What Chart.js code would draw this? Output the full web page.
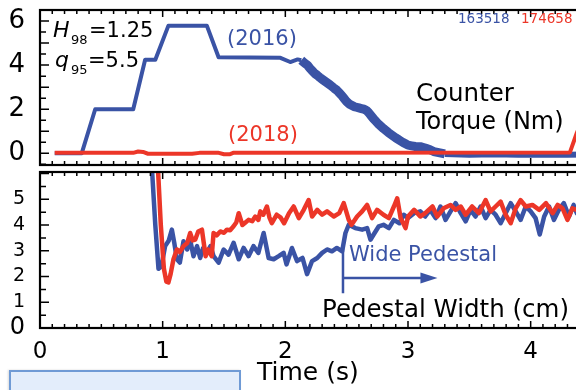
<!DOCTYPE html>
<html>
<head>
<meta charset="utf-8">
<script src="https://cdn.jsdelivr.net/npm/chart.js@4/dist/chart.umd.min.js"></script>
<style>
  html, body { margin: 0; padding: 0; background: #fff; }
  #wrap { position: relative; width: 576px; height: 390px; overflow: hidden; background: #fff; }
  #wrap canvas { position: absolute; left: 0; }
  #torque { top: 0; }
  #pedestal { top: 160px; }
  #box { position: absolute; left: 9px; top: 370px; width: 228px; height: 40px; background: #e3edfb; border: 2px solid #6f9ad5; box-shadow: -1px 0 2px rgba(0,0,0,0.15); }
</style>
</head>
<body>
<div id="wrap">
  <canvas id="torque" width="592" height="170"></canvas>
  <canvas id="pedestal" width="592" height="230"></canvas>
  <div id="box"></div>
</div>
<script>
const BLUE = '#3a53a5'
const RED = '#ec3628'
const FONT = 'DejaVu Sans'

// counter torque (Nm)
const torqueTime2016 = [0.12, 0.34, 0.45, 0.76, 0.857, 0.94, 1.047, 1.36, 1.456, 1.96, 2.04, 2.10, 2.13,
  2.16, 2.18, 2.20, 2.22, 2.24, 2.26, 2.28, 2.30, 2.32, 2.34, 2.36, 2.38, 2.40, 2.42, 2.44, 2.46, 2.48, 2.50,
  2.52, 2.54, 2.56, 2.58, 2.60, 2.62, 2.64, 2.66, 2.68, 2.70, 2.72, 2.74, 2.76, 2.78, 2.80, 2.82, 2.84, 2.86,
  2.88, 2.90, 2.92, 2.94, 2.96, 2.98, 3.00, 3.03, 3.06, 3.10, 3.14, 3.18, 3.21, 3.25, 3.30, 3.50, 3.70, 3.90,
  4.10, 4.30, 4.45]
const torque2016 = [0, 0, 2.0, 2.0, 4.24, 4.24, 5.79, 5.79, 4.36, 4.33, 4.14, 4.26, 4.22,
  4.08, 4.00, 3.86, 3.74, 3.62, 3.54, 3.44, 3.36, 3.28, 3.20, 3.12, 3.04, 2.94, 2.86, 2.74, 2.62, 2.48, 2.34,
  2.24, 2.18, 2.12, 2.09, 2.06, 2.03, 2.00, 1.95, 1.84, 1.70, 1.56, 1.44, 1.32, 1.22, 1.12, 1.03, 0.94, 0.86,
  0.78, 0.70, 0.63, 0.56, 0.49, 0.43, 0.37, 0.34, 0.31, 0.30, 0.24, 0.16, 0.08, 0.03, -0.03, -0.06, -0.04, -0.07,
  -0.05, -0.06, -0.05]
const torqueTime2018 = [0.12, 0.76, 0.80, 0.84, 0.88, 1.24, 1.30, 1.45, 1.50, 1.55, 1.58, 4.32, 4.376, 4.42]
const torque2018 = [0.02, 0.02, 0.08, 0.06, -0.02, -0.02, 0.02, 0.03, -0.04, -0.04, 0.03, 0.04, 0.92, 1.5]

// pedestal width (cm)
const pedTime2016 = [0.905, 0.94, 0.966, 0.99, 1.02, 1.05, 1.075, 1.095, 1.116, 1.14, 1.17, 1.20, 1.224, 1.251,
  1.28, 1.306, 1.33, 1.36, 1.39, 1.415, 1.456, 1.497, 1.537, 1.578, 1.62, 1.66, 1.70, 1.74, 1.78, 1.823, 1.864,
  1.905, 1.946, 1.986, 2.01, 2.054, 2.095, 2.14, 2.177, 2.218, 2.26, 2.30, 2.34, 2.38, 2.42, 2.463, 2.49, 2.517,
  2.57, 2.626, 2.667, 2.694, 2.72, 2.762, 2.80, 2.844, 2.885, 2.93, 2.966, 3.0, 3.05, 3.10, 3.14, 3.18, 3.225,
  3.265, 3.306, 3.347, 3.388, 3.43, 3.47, 3.51, 3.55, 3.592, 3.633, 3.673, 3.714, 3.755, 3.796, 3.837, 3.878,
  3.918, 3.96, 4.0, 4.04, 4.074, 4.11, 4.15, 4.19, 4.23, 4.27, 4.313, 4.35, 4.376, 4.42]
const ped2016 = [6.8, 4.0, 2.3, 2.4, 3.18, 3.4, 3.82, 3.3, 2.67, 2.54, 3.37, 3.05, 3.43, 2.79,
  3.18, 2.72, 3.11, 2.92, 3.18, 2.79, 2.54, 3.05, 2.85, 3.31, 2.67, 3.11, 2.79, 3.18, 2.92, 3.69, 2.72,
  2.67, 2.79, 2.92, 2.47, 3.11, 2.6, 2.72, 2.09, 2.6, 2.72, 2.92, 3.05, 2.98, 3.11, 2.98, 3.69, 4.01,
  3.88, 3.82, 3.88, 3.43, 3.63, 3.95, 4.01, 3.88, 4.2, 4.07, 4.4, 4.27, 4.46, 4.53, 4.33, 4.59, 4.27,
  4.72, 4.2, 4.53, 4.85, 4.46, 4.14, 4.59, 4.33, 4.72, 4.27, 4.59, 4.4, 4.07, 4.46, 4.85, 4.53,
  4.2, 4.72, 4.53, 4.27, 3.63, 4.33, 4.72, 4.2, 4.59, 4.85, 4.33, 4.78, 4.46, 4.6]
const pedTime2018 = [0.955, 0.985, 1.01, 1.03, 1.047, 1.065, 1.088, 1.116, 1.14, 1.17, 1.20, 1.224, 1.245, 1.265,
  1.29, 1.32, 1.35, 1.37, 1.40, 1.415, 1.44, 1.47, 1.50, 1.524, 1.55, 1.578, 1.60, 1.62, 1.65, 1.675, 1.70, 1.73,
  1.755, 1.78, 1.796, 1.82, 1.85, 1.87, 1.89, 1.93, 1.96, 1.99, 2.03, 2.068, 2.11, 2.15, 2.19, 2.218, 2.26, 2.30,
  2.34, 2.395, 2.44, 2.476, 2.517, 2.54, 2.585, 2.626, 2.667, 2.707, 2.748, 2.80, 2.844, 2.885, 2.912, 2.94, 2.98,
  3.0, 3.05, 3.10, 3.14, 3.20, 3.238, 3.29, 3.347, 3.388, 3.43, 3.47, 3.523, 3.578, 3.633, 3.673, 3.714, 3.755,
  3.796, 3.837, 3.878, 3.918, 3.96, 4.014, 4.07, 4.125, 4.18, 4.22, 4.26, 4.30, 4.34, 4.376, 4.42]
const ped2018 = [6.8, 4.0, 2.3, 1.8, 1.77, 2.1, 2.67, 3.05, 2.95, 3.18, 3.3, 3.69, 3.4, 3.43,
  3.75, 3.82, 2.79, 3.05, 2.79, 3.69, 3.6, 3.75, 3.7, 3.82, 3.8, 3.95, 4.1, 4.46, 4.0, 4.1, 4.2, 4.15,
  4.33, 4.2, 4.53, 4.4, 4.72, 4.3, 4.07, 4.4, 4.3, 4.07, 4.46, 4.72, 4.27, 4.59, 4.97, 4.33, 4.59, 4.4,
  4.53, 4.33, 4.46, 4.85, 4.2, 4.01, 4.33, 4.53, 4.78, 4.27, 4.59, 4.4, 4.27, 4.72, 5.04, 4.27, 3.88,
  4.33, 4.59, 4.33, 4.46, 4.72, 4.33, 4.65, 4.78, 4.59, 4.72, 4.4, 4.72, 4.46, 4.97, 4.53, 4.72, 4.91,
  4.4, 4.07, 4.65, 4.97, 4.72, 4.78, 4.59, 4.85, 4.46, 4.78, 4.65, 4.2, 4.65, 4.59, 4.5]

const timeTicks = [0, 1, 2, 3, 4]
const torqueTicks = [0, 2, 4, 6]
const pedTicks = [0, 1, 2, 3, 4, 5]

function points(xs, ys) {
  return xs.map((x, i) => ({ x: x, y: ys[i] }))
}

function text(ctx, s, x, y, size, color, style, baseline) {
  ctx.font = (style || '') + ' ' + size + 'px "' + FONT + '"'
  ctx.fillStyle = color
  ctx.textAlign = 'left'
  ctx.textBaseline = baseline || 'middle'
  ctx.fillText(s, x, y)
}

// frame + inward ticks + notes, drawn on top of the data
function overlay(notes) {
  return {
    id: 'overlay',
    afterDraw(chart) {
      const ctx = chart.ctx
      const a = chart.chartArea
      const xs = chart.scales.x
      const ys = chart.scales.y
      ctx.save()
      ctx.strokeStyle = '#000'
      ctx.lineWidth = 1.5
      ctx.beginPath()
      for (let i = 0; i <= 45; i++) {
        const px = xs.getPixelForValue(i / 10)
        const len = i % 10 === 0 ? 7 : 4
        ctx.moveTo(px, a.bottom); ctx.lineTo(px, a.bottom - len)
        ctx.moveTo(px, a.top); ctx.lineTo(px, a.top + len)
      }
      for (let v = Math.ceil(ys.min * 2) / 2; v <= ys.max; v += 0.5) {
        const py = ys.getPixelForValue(v)
        const len = v % 1 === 0 ? 9 : 6
        ctx.moveTo(a.left, py); ctx.lineTo(a.left + len, py)
      }
      ctx.stroke()
      ctx.lineWidth = 2.2
      ctx.strokeRect(a.left, a.top, a.right - a.left + 10, a.bottom - a.top)
      notes(ctx, xs, ys)
      ctx.restore()
    }
  }
}

function noPad(s) {
  s.paddingTop = 0; s.paddingBottom = 0; s.paddingLeft = 0; s.paddingRight = 0
}

function baseScales(yMin, yMax, yTicks, yFont, xHeight, showX) {
  return {
    x: {
      type: 'linear', min: 0, max: 4.5,
      grid: { display: false }, border: { display: false },
      ticks: { display: showX, autoSkip: false, maxRotation: 0, color: '#000', padding: 2, font: { family: FONT, size: 23 } },
      afterBuildTicks: s => { s.ticks = timeTicks.map(v => ({ value: v })) },
      afterFit: s => { s.height = xHeight; noPad(s) }
    },
    y: {
      min: yMin, max: yMax,
      grid: { display: false }, border: { display: false },
      ticks: { autoSkip: false, color: '#000', padding: 7, font: yFont },
      afterBuildTicks: s => { s.ticks = yTicks.map(v => ({ value: v })) },
      afterFit: s => { s.width = 40; noPad(s) }
    }
  }
}

const common = {
  responsive: false,
  animation: false,
  elements: { point: { radius: 0 }, line: { tension: 0, borderJoinStyle: 'round' } },
  plugins: { legend: { display: false }, tooltip: { enabled: false } }
}

new Chart(document.getElementById('torque'), {
  type: 'line',
  data: {
    datasets: [{
      data: points(torqueTime2018, torque2018),
      borderColor: RED, borderWidth: 4
    }, {
      data: points(torqueTime2016, torque2016),
      borderColor: BLUE, borderWidth: 4,
      segment: { borderWidth: c => c.p0.parsed.x >= 2.12 ? (c.p0.parsed.x >= 3.3 ? 6 : 9) : undefined }
    }]
  },
  options: Object.assign({}, common, {
    layout: { padding: { top: 10, left: 0, right: 0, bottom: 0 } },
    scales: baseScales(-0.53, 6.5, torqueTicks, { family: FONT, size: 26 }, 5, false)
  }),
  plugins: [overlay((ctx) => {
    text(ctx, 'H', 53, 37, 22, '#000', 'italic', 'alphabetic')
    text(ctx, '98', 71, 44, 13, '#000', '', 'alphabetic')
    text(ctx, '=1.25', 89, 37, 21, '#000', '', 'alphabetic')
    text(ctx, 'q', 55, 67, 22, '#000', 'italic', 'alphabetic')
    text(ctx, '95', 71, 74, 13, '#000', '', 'alphabetic')
    text(ctx, '=5.5', 88, 67, 21, '#000', '', 'alphabetic')
    text(ctx, '(2016)', 227, 40, 21, BLUE)
    text(ctx, '(2018)', 228, 136, 21, RED)
    text(ctx, '163518', 458, 19, 13.5, BLUE)
    text(ctx, '174658', 521, 19, 13.5, RED)
    text(ctx, 'Counter', 416, 95, 24.5, '#000')
    text(ctx, 'Torque (Nm)', 416, 123, 24, '#000')
  })]
})

new Chart(document.getElementById('pedestal'), {
  type: 'line',
  data: {
    datasets: [{
      data: points(pedTime2018, ped2018),
      borderColor: RED, borderWidth: 4.5
    }, {
      data: points(pedTime2016, ped2016),
      borderColor: BLUE, borderWidth: 4.5
    }]
  },
  options: Object.assign({}, common, {
    layout: { padding: { top: 12, left: 0, right: 0, bottom: 0 } },
    scales: baseScales(0, 6.06, pedTicks, c => ({ family: FONT, size: c.tick && c.tick.value === 0 ? 24 : 19 }), 62, true)
  }),
  plugins: [overlay((ctx, xs, ys) => {
    // wide pedestal marker
    const x1 = xs.getPixelForValue(2.47)
    const x2 = xs.getPixelForValue(3.24)
    const yArrow = ys.getPixelForValue(1.94)
    ctx.strokeStyle = BLUE
    ctx.fillStyle = BLUE
    ctx.lineWidth = 2.5
    ctx.beginPath()
    ctx.moveTo(x1, ys.getPixelForValue(3.08)); ctx.lineTo(x1, ys.getPixelForValue(1.35))
    ctx.moveTo(x1, yArrow); ctx.lineTo(x2 - 12, yArrow)
    ctx.stroke()
    ctx.beginPath()
    ctx.moveTo(x2, yArrow); ctx.lineTo(x2 - 17, yArrow - 5.5); ctx.lineTo(x2 - 17, yArrow + 5.5)
    ctx.closePath(); ctx.fill()
    text(ctx, 'Wide Pedestal', 349, 95.5, 21, BLUE)
    text(ctx, 'Pedestal Width (cm)', 322, 151, 24.5, '#000')
    text(ctx, 'Time (s)', 257, 213, 25, '#000')
  })]
})
</script>
</body>
</html>
